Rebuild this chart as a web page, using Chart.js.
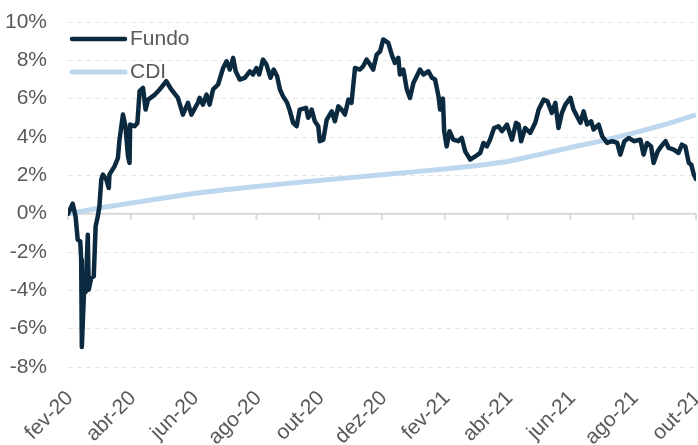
<!DOCTYPE html>
<html>
<head>
<meta charset="utf-8">
<script src="https://cdn.jsdelivr.net/npm/chart.js@4"></script>
<style>
  html, body { margin: 0; padding: 0; background: #fff; }
  #wrap { width: 698px; height: 445px; }
</style>
</head>
<body>
<div id="wrap"><canvas id="chart"></canvas></div>
<script>
// x positions are months counted from fev-20
const tickLabels = ["fev-20", "abr-20", "jun-20", "ago-20", "out-20", "dez-20",
  "fev-21", "abr-21", "jun-21", "ago-21", "out-21"];

const fundoMonths = [
  0, 0.15, 0.24, 0.31, 0.39, 0.42, 0.44, 0.53, 0.56, 0.63, 0.66, 0.74, 0.82, 0.88, 0.95,
  1.0, 1.06, 1.11, 1.22, 1.30, 1.32, 1.48, 1.59, 1.64, 1.75, 1.83, 1.91, 1.96, 1.98,
  2.12, 2.21, 2.28, 2.39, 2.47, 2.55, 2.76, 2.92, 3.13, 3.29, 3.50, 3.66, 3.82, 3.93,
  4.14, 4.19, 4.30, 4.41, 4.51, 4.62, 4.78, 4.94, 5.05, 5.15, 5.26, 5.34, 5.47, 5.63,
  5.79, 5.89, 6.0, 6.09, 6.21, 6.32, 6.45, 6.55, 6.66, 6.75, 6.85, 6.98, 7.07, 7.17,
  7.28, 7.38, 7.58, 7.65, 7.76, 7.86, 7.97, 8.02, 8.13, 8.24, 8.40, 8.50, 8.61, 8.71,
  8.82, 8.93, 9.03, 9.14, 9.30, 9.40, 9.51, 9.62, 9.72, 9.83, 9.94, 10.04, 10.20,
  10.31, 10.41, 10.52, 10.57, 10.68, 10.79, 10.89, 11.0, 11.21, 11.32, 11.48, 11.59,
  11.69, 11.80, 11.85, 11.94, 11.98, 12.06, 12.15, 12.27, 12.43, 12.54, 12.65, 12.81,
  12.97, 13.13, 13.23, 13.34, 13.44, 13.57, 13.71, 13.82, 13.98, 14.14, 14.27, 14.35,
  14.43, 14.56, 14.72, 14.88, 14.99, 15.15, 15.27, 15.41, 15.52, 15.62, 15.73, 15.84,
  16.0, 16.10, 16.21, 16.32, 16.42, 16.53, 16.66, 16.74, 16.90, 17.01, 17.17, 17.33,
  17.49, 17.59, 17.72, 17.86, 18.02, 18.23, 18.33, 18.44, 18.57, 18.65, 18.78, 18.89,
  19.03, 19.13, 19.29, 19.44, 19.55, 19.66, 19.77, 19.85, 19.93, 20.0
];
const fundoValues = [
  0, 0.52, -0.14, -1.36, -1.45, -2.4, -6.96, -3.27, -4.1, -1.1, -3.97, -3.35, -3.27, -0.66, -0.14,
  0.38, 1.78, 2.04, 1.78, 1.34, 2.04, 2.47, 2.9, 3.86, 5.17, 4.56, 3.0, 2.65, 4.65,
  4.56, 4.73, 6.39, 6.56, 5.43, 5.95, 6.2, 6.48, 6.91, 6.48, 6.04, 5.17, 5.78, 5.17,
  5.8, 6.04, 5.69, 6.21, 5.69, 6.48, 6.74, 7.6, 7.95, 7.52, 8.13, 7.43, 7.0, 7.09,
  7.43, 7.26, 7.6, 7.26, 8.04, 7.78, 7.09, 7.52, 7.17, 6.48, 6.12, 5.78, 5.34, 4.74,
  4.56, 5.43, 5.52, 5.0, 5.43, 4.82, 4.56, 3.78, 3.86, 4.91, 5.34, 4.82, 5.6, 5.43,
  5.17, 5.95, 5.78, 7.6, 7.52, 7.69, 8.04, 7.78, 7.52, 8.3, 8.47, 9.09, 8.91,
  8.3, 7.87, 8.13, 7.26, 7.52, 6.48, 6.04, 6.82, 7.52, 7.26, 7.43, 7.09,
  7.0, 6.12, 5.43, 6.0, 4.3, 3.51, 4.3, 3.86, 3.78, 3.95, 3.25, 2.82,
  2.99, 3.17, 3.69, 3.51, 3.86, 4.47, 4.56, 4.3, 4.65, 3.86, 4.74, 4.65,
  3.78, 4.47, 4.21, 4.74, 5.43, 5.95, 5.86, 5.26, 5.78, 4.47, 5.26, 5.69,
  6.04, 5.43, 5.08, 4.74, 5.34, 4.65, 4.82, 4.39, 4.65, 4.04, 3.69, 3.78,
  3.69, 3.08, 3.78, 3.95, 3.78, 3.86, 3.08, 3.69, 3.51, 2.65, 3.25, 3.51,
  3.78, 3.43, 3.34, 3.17, 3.6, 3.51, 2.65, 2.56, 2.04, 1.81
];

const cdiMonths = [0, 1, 2, 3, 4, 5, 6, 7, 8, 9, 10, 11, 12, 13, 14, 15, 16, 17, 18, 19, 20];
const cdiValues = [0, 0.3, 0.55, 0.8, 1.05, 1.25, 1.42, 1.58, 1.73, 1.88, 2.03, 2.18,
  2.33, 2.5, 2.72, 3.08, 3.45, 3.8, 4.2, 4.65, 5.15];

const textColor = "#595959";
const fontFamily = "'Liberation Sans', Arial, sans-serif";

const zeroLinePlugin = {
  id: "zeroLine",
  beforeDatasetsDraw(chart) {
    const { ctx, chartArea, scales } = chart;
    const y0 = scales.y.getPixelForValue(0);
    ctx.save();
    ctx.strokeStyle = "#d9d9d9";
    ctx.lineWidth = 2;
    ctx.beginPath();
    ctx.moveTo(chartArea.left, y0);
    ctx.lineTo(chartArea.right, y0);
    scales.x.ticks.forEach((t) => {
      const px = scales.x.getPixelForValue(t.value);
      ctx.moveTo(px, y0);
      ctx.lineTo(px, y0 + 6);
    });
    ctx.stroke();
    ctx.restore();
  },
};

const legendPlugin = {
  id: "insideLegend",
  afterDraw(chart) {
    const { ctx, chartArea } = chart;
    ctx.save();
    ctx.font = "21px " + fontFamily;
    ctx.textBaseline = "middle";
    chart.data.datasets.forEach((ds, i) => {
      const yy = chartArea.top + 17 + i * 33;
      ctx.strokeStyle = ds.borderColor;
      ctx.lineWidth = ds.borderWidth;
      ctx.lineCap = "round";
      ctx.beginPath();
      ctx.moveTo(chartArea.left + 4, yy);
      ctx.lineTo(chartArea.left + 57, yy);
      ctx.stroke();
      ctx.fillStyle = textColor;
      ctx.fillText(ds.label, chartArea.left + 62, yy);
    });
    ctx.restore();
  },
};

new Chart(document.getElementById("chart"), {
  type: "line",
  data: {
    datasets: [
      {
        label: "Fundo",
        data: fundoMonths.map((m, i) => ({ x: m, y: fundoValues[i] })),
        borderColor: "#0b2a40",
        borderWidth: 4.5,
        pointRadius: 0,
        tension: 0,
        borderJoinStyle: "round",
        borderCapStyle: "round",
      },
      {
        label: "CDI",
        data: cdiMonths.map((m, i) => ({ x: m, y: cdiValues[i] })),
        borderColor: "#bdd7ee",
        borderWidth: 5,
        pointRadius: 0,
        tension: 0,
      },
    ],
  },
  options: {
    responsive: true,
    maintainAspectRatio: false,
    animation: false,
    devicePixelRatio: 1,
    layout: { padding: { top: 22, right: 2, left: 0, bottom: 0 } },
    plugins: {
      legend: { display: false },
      tooltip: { enabled: false },
    },
    scales: {
      x: {
        type: "linear",
        min: 0,
        max: 20,
        afterFit: (s) => {
          s.height = 78;
          s.paddingLeft = 0;
          s.paddingRight = 0;
        },
        afterBuildTicks: (s) => {
          s.ticks = tickLabels.map((_, i) => ({ value: i * 2 }));
        },
        ticks: {
          autoSkip: false,
          maxRotation: 45,
          minRotation: 45,
          color: textColor,
          font: { family: fontFamily, size: 21 },
          padding: 11,
          labelOffset: 2,
          callback: (v) => tickLabels[v / 2] ?? "",
        },
        grid: { display: false },
        border: { display: false },
      },
      y: {
        min: -8,
        max: 10,
        afterFit: (s) => {
          s.width = 68;
          s.paddingTop = 0;
          s.paddingBottom = 0;
        },
        ticks: {
          stepSize: 2,
          color: textColor,
          font: { family: fontFamily, size: 21 },
          padding: 21,
          callback: (v) => v + "%",
        },
        grid: {
          drawTicks: false,
          color: (c) => (c.tick && c.tick.value === 0 ? "rgba(0,0,0,0)" : "#e6e6e6"),
          lineWidth: 1,
        },
        border: { display: false, dash: [5, 4] },
      },
    },
  },
  plugins: [zeroLinePlugin, legendPlugin],
});
</script>
</body>
</html>
